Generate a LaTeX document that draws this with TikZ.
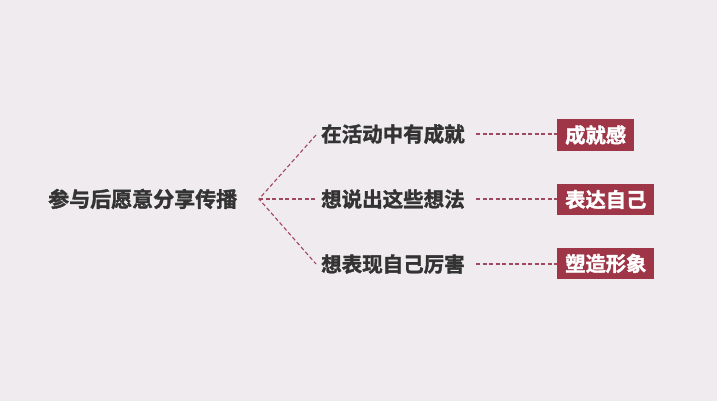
\documentclass[tikz,border=0pt]{standalone}
\usepackage{fontspec}
\newfontfamily\cjk[FakeBold=1.6]{Noto Sans CJK SC Bold}
\definecolor{bgc}{HTML}{EFEBEE}
\definecolor{txt}{HTML}{333333}
\definecolor{accent}{HTML}{9E3648}
\definecolor{lnc}{HTML}{A04860}
\begin{document}
\begin{tikzpicture}[x=1pt,y=-1pt,
  lbl/.style={font=\cjk\fontsize{20.5}{22}\selectfont, text=txt, inner sep=0pt, anchor=west},
  tag/.style={font=\cjk\fontsize{20.3}{22}\selectfont, text=white, fill=accent, inner xsep=8pt, inner ysep=0pt, minimum height=31pt, anchor=west},
  dline/.style={draw=lnc, line width=1.1pt, dash pattern=on 4pt off 2.5pt}]
\fill[bgc] (0,0) rectangle (717,401);
\useasboundingbox (0,0) rectangle (717,401);
\node[lbl, font=\cjk\fontsize{21}{23}\selectfont] (root) at (48,199) {参与后愿意分享传播};
\coordinate (j) at (259,199);
\coordinate (e1) at (316,135);
\coordinate (e2) at (315,199);
\coordinate (e3) at (316,264);
\node[lbl] (a1) at (321,134) {在活动中有成就};
\node[lbl] (a2) at (321,199) {想说出这些想法};
\node[lbl] (a3) at (321,264) {想表现自己厉害};
\node[tag] (b1) at (557,135) {成就感};
\node[tag] (b2) at (557,199.5) {表达自己};
\node[tag] (b3) at (557,263.5) {塑造形象};
\draw[dline] (e1) -- (j) -- (e3);
\draw[dline] (j) -- (e2);
\coordinate (s1) at (476,134);
\coordinate (s2) at (476,199);
\coordinate (s3) at (476,264);
\draw[dline] (s1) -- (b1.west |- s1);
\draw[dline] (s2) -- (b2.west |- s2);
\draw[dline] (s3) -- (b3.west |- s3);
\end{tikzpicture}
\end{document}
